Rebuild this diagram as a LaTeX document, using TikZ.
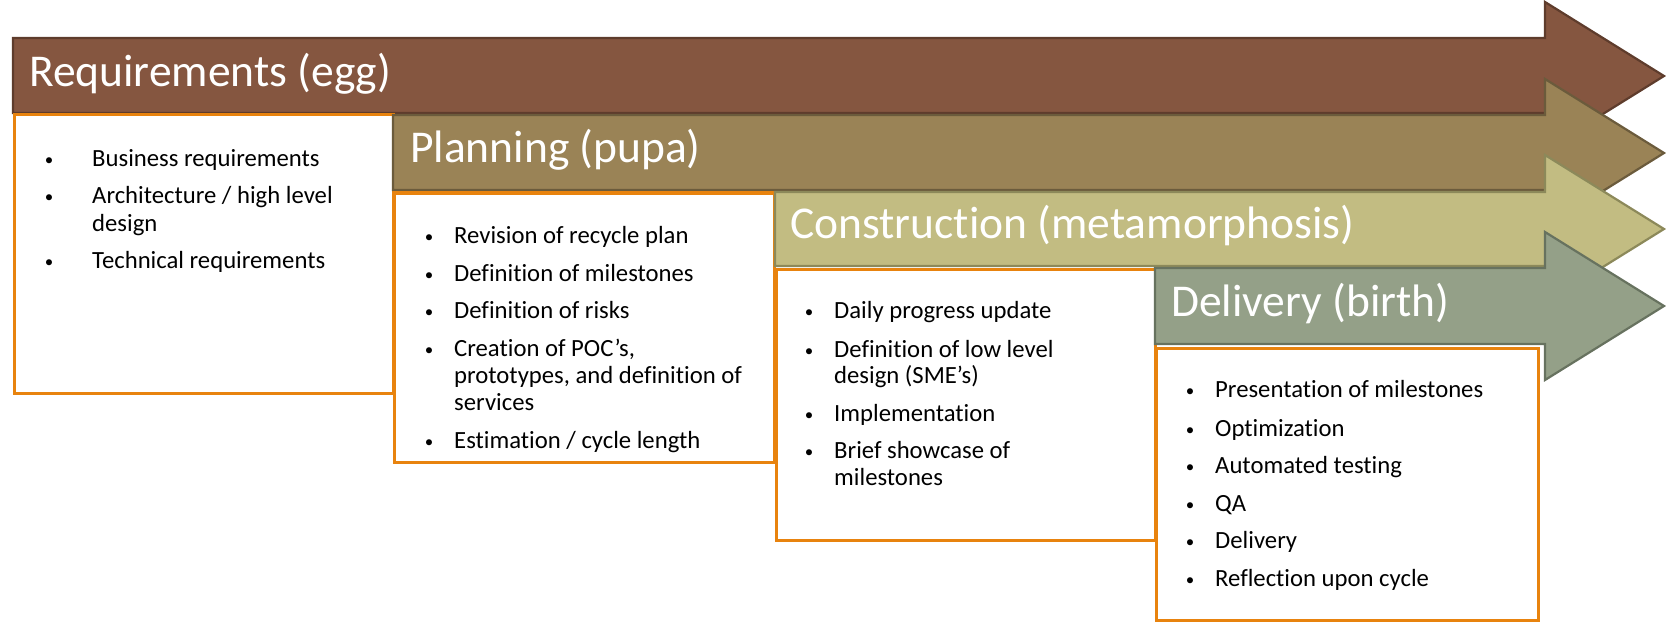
\documentclass[tikz,border=0pt]{standalone}
\usepackage{fontspec}
\setmainfont{Carlito}[Ligatures={NoCommon}]
\definecolor{fA}{RGB}{133,86,64}
\definecolor{dA}{RGB}{94,60,44}
\definecolor{fB}{RGB}{154,131,86}
\definecolor{dB}{RGB}{107,91,60}
\definecolor{fC}{RGB}{194,188,130}
\definecolor{dC}{RGB}{140,137,90}
\definecolor{fD}{RGB}{148,160,136}
\definecolor{dD}{RGB}{103,114,95}
\definecolor{orng}{RGB}{232,131,14}
\tikzset{
  phasearrow/.style={line width=2.2pt, line join=miter},
  listbox/.style={draw=orng, line width=3pt, fill=white},
  ttl/.style={anchor=base west, inner sep=0pt, text=white, font=\fontsize{45.5}{50}\selectfont},
  itx/.style={anchor=base west, inner sep=0pt, font=\fontsize{24.7}{27}\selectfont},
  bul/.style={anchor=base, inner sep=0pt, font=\fontsize{17}{20}\selectfont},
}
\newcommand\itm[5]{\node[bul] (#1-b) at (#2,#4-1) {\textbullet}; \node[itx] (#1) at (#3,#4) {#5};}
\newcommand\cnt[4]{\node[itx] (#1) at (#2,#3) {#4};}
\begin{document}
\begin{tikzpicture}[x=1pt,y=-1pt]
\useasboundingbox (0,0) rectangle (1666,623);
% Arrow 1
\draw[phasearrow, fill=fA, draw=dA] (13,38) -- (1545,38) -- (1545,2) -- (1664,76) -- (1545,150) -- (1545,113) -- (13,113) -- cycle;
\node[ttl] (t1) at (29,87) {Requirements (egg)};
\draw[listbox] (14,115) rectangle (393,393);
\itm{a1}{49}{92}{167}{Business requirements}
\itm{a2}{49}{92}{204}{Architecture / high level}
\cnt{a2c}{92}{231}{design}
\itm{a3}{49}{92}{268}{Technical requirements}
% Arrow 2
\draw[phasearrow, fill=fB, draw=dB] (393,115) -- (1545,115) -- (1545,79) -- (1664,153) -- (1545,227) -- (1545,190) -- (393,190) -- cycle;
\node[ttl] (t2) at (410,163) {Planning (pupa)};
\draw[listbox] (394,193) rectangle (774,462);
\itm{b1}{429}{454}{243}{Revision of recycle plan}
\itm{b2}{429}{454}{281}{Definition of milestones}
\itm{b3}{429}{454}{318}{Definition of risks}
\itm{b4}{429}{454}{356}{Creation of POC’s,}
\cnt{b4c}{454}{383}{prototypes, and definition of}
\cnt{b4d}{454}{410}{services}
\itm{b5}{429}{454}{448}{Estimation / cycle length}
% Arrow 3
\draw[phasearrow, fill=fC, draw=dC] (775,192) -- (1545,192) -- (1545,155) -- (1664,229) -- (1545,303) -- (1545,266) -- (775,266) -- cycle;
\node[ttl] (t3) at (790,238) {Construction (metamorphosis)};
\draw[listbox] (776,269) rectangle (1155,540);
\itm{c1}{809}{834}{318}{Daily progress update}
\itm{c2}{809}{834}{357}{Definition of low level}
\cnt{c2c}{834}{383}{design (SME’s)}
\itm{c3}{809}{834}{421}{Implementation}
\itm{c4}{809}{834}{458}{Brief showcase of}
\cnt{c4c}{834}{485}{milestones}
% Arrow 4
\draw[phasearrow, fill=fD, draw=dD] (1155,268) -- (1545,268) -- (1545,232) -- (1664,306) -- (1545,380) -- (1545,344) -- (1155,344) -- cycle;
\node[ttl] (t4) at (1171,316) {Delivery (birth)};
\draw[listbox] (1156,348) rectangle (1538,620);
\itm{d1}{1190}{1215}{397}{Presentation of milestones}
\itm{d2}{1190}{1215}{436}{Optimization}
\itm{d3}{1190}{1215}{473}{Automated testing}
\itm{d4}{1190}{1215}{511}{QA}
\itm{d5}{1190}{1215}{548}{Delivery}
\itm{d6}{1190}{1215}{586}{Reflection upon cycle}
\end{tikzpicture}
\end{document}
